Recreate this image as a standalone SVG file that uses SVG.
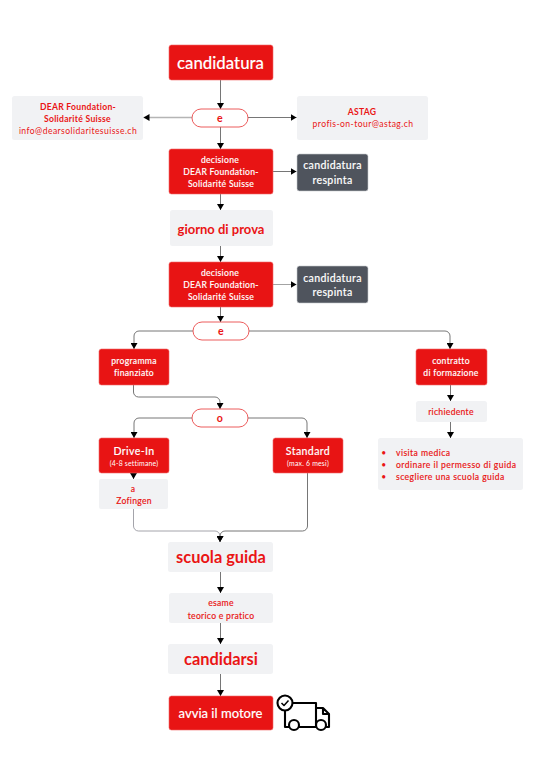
<svg xmlns="http://www.w3.org/2000/svg" width="540" height="780" viewBox="0 0 540 780">
<style>
text{font-family:"Lato","Open Sans",sans-serif;text-anchor:middle}
.r{fill:#e81414;stroke:#f06a6a;stroke-width:.6}
.g{fill:#f1f2f4}
.d{fill:#4f545d;stroke:#c8cacf;stroke-width:.6}
.p{fill:#fff;stroke:#ea4a4a;stroke-width:.9}
.w{fill:#fff}
.t{fill:#ea1515}
.b{font-weight:700}
.m{font-weight:500;stroke-width:.12}
.w.m{stroke:#fff}
.t.m{stroke:#ea1515}
.s9{font-size:8.6px;letter-spacing:.28px}
.l9{font-size:8.6px;letter-spacing:.42px}
.s7{font-size:6.9px;letter-spacing:.2px}
.s11{font-size:10.6px;letter-spacing:.35px}
.s14{font-size:13px}
.s18{font-size:16.8px}
.s17{font-size:16.4px}
.c{fill:none;stroke:#666;stroke-width:.9;marker-end:url(#a)}
.tr{fill:none;stroke:#000;stroke-width:2.100;stroke-linejoin:round}
</style>
<defs><marker id="a" markerUnits="userSpaceOnUse" markerWidth="7" markerHeight="7" refX="6" refY="3.500" orient="auto"><path d="M0 0L6 3.500L0 7z" fill="#000"/></marker></defs>
<g id="connectors">
<path class="c" d="M220.500 80V109"/>
<path class="c" d="M192 117.500H143.500" style="stroke:#b5b5b5;stroke-width:1.500"/>
<path class="c" d="M248 117.500H296.500"/>
<path class="c" d="M220.500 127V149"/>
<path class="c" d="M273 171.500H296.500"/>
<path class="c" d="M220.500 194V210"/>
<path class="c" d="M220.500 246V262"/>
<path class="c" d="M273 284.500H296.500" style="stroke:#999"/>
<path class="c" d="M220.500 307V322"/>
<path class="c" d="M193 331H139a5 5 0 0 0-5 5V349"/>
<path class="c" d="M249 331H445a5 5 0 0 1 5 5V349"/>
<path class="c" d="M133.500 385V392a5 5 0 0 0 5 5H215a5 5 0 0 1 5 5V409"/>
<path class="c" d="M192 418H139a5 5 0 0 0-5 5V438"/>
<path class="c" d="M248 418H302a5 5 0 0 1 5 5V438"/>
<path class="c" d="M450.500 385V401"/>
<path class="c" d="M450.500 422V438"/>
<path class="c" d="M133.500 473V479"/>
<path class="c" d="M133.500 509V526a5 5 0 0 0 5 5H215a5 5 0 0 1 5 5V542" style="stroke:#9a9aa2"/>
<path class="c" d="M307.500 473V526a5 5 0 0 1-5 5H225a5 5 0 0 0-5 5V542"/>
<path class="c" d="M220.500 572V593"/>
<path class="c" d="M220.500 623V644"/>
<path class="c" d="M220.500 674V696"/>
</g>
<g id="n1"><rect class="r" x="169" y="45" width="104" height="35" rx="2.500"/><text class="w s18 m" x="220.500" y="69">candidatura</text></g>
<g id="n2"><rect class="p" x="192" y="109" width="56" height="18" rx="9"/><text class="t s11 b" x="220" y="122">e</text></g>
<g id="n3"><rect class="g" x="12" y="96" width="131" height="44" rx="2.500"/><text class="t s9 b" x="78" y="110">DEAR Foundation-</text><text class="t s9 b" x="77.500" y="122">Solidarité Suisse</text><text class="t l9" x="78" y="134">info@dearsolidaritesuisse.ch</text></g>
<g id="n4"><rect class="g" x="297" y="96" width="131" height="44" rx="2.500"/><text class="t s9 b" x="362" y="115">ASTAG</text><text class="t l9" x="363" y="127">profis-on-tour@astag.ch</text></g>
<g id="n5"><rect class="r" x="169" y="149" width="104" height="45" rx="2.500"/><text class="w s9 m" x="220" y="163">decisione</text><text class="w s9 m" x="221" y="175">DEAR Foundation-</text><text class="w s9 m" x="221" y="187">Solidarité Suisse</text></g>
<g id="n6"><rect class="d" x="297" y="154" width="71" height="37" rx="2.500"/><text class="w s11 m" x="332.500" y="169">candidatura</text><text class="w s11 m" x="332.500" y="184">respinta</text></g>
<g id="n7"><rect class="g" x="170" y="210" width="103" height="36" rx="2.500"/><text class="t s14 b" x="221" y="234">giorno di prova</text></g>
<g id="n8"><rect class="r" x="169" y="262" width="104" height="45" rx="2.500"/><text class="w s9 m" x="220" y="276">decisione</text><text class="w s9 m" x="221" y="288">DEAR Foundation-</text><text class="w s9 m" x="221" y="300">Solidarité Suisse</text></g>
<g id="n9"><rect class="d" x="297" y="266" width="71" height="37" rx="2.500"/><text class="w s11 m" x="332.500" y="282">candidatura</text><text class="w s11 m" x="332.500" y="296">respinta</text></g>
<g id="n10"><rect class="p" x="193" y="322" width="56" height="18" rx="9"/><text class="t s11 b" x="221" y="335">e</text></g>
<g id="n11"><rect class="r" x="99" y="349" width="70" height="36" rx="2.500"/><text class="w s9 m" x="134" y="364">programma</text><text class="w s9 m" x="134" y="376">finanziato</text></g>
<g id="n12"><rect class="r" x="416" y="349" width="71" height="36" rx="2.500"/><text class="w s9 m" x="451" y="364">contratto</text><text class="w s9 m" x="451" y="376">di formazione</text></g>
<g id="n13"><rect class="p" x="192" y="409" width="56" height="18" rx="9"/><text class="t s11 b" x="220" y="422">o</text></g>
<g id="n14"><rect class="g" x="416" y="401" width="71" height="21" rx="2.500"/><text class="t s9 m" x="451" y="415">richiedente</text></g>
<g id="n15"><rect class="r" x="99" y="438" width="70" height="35" rx="2.500"/><text class="w s11 m" x="134" y="455">Drive-In</text><text class="w s7" x="134" y="466">(4-8 settimane)</text></g>
<g id="n16"><rect class="r" x="273" y="438" width="70" height="35" rx="2.500"/><text class="w s11 m" x="308" y="455">Standard</text><text class="w s7" x="308" y="466">(max. 6 mesi)</text></g>
<g id="n17"><rect class="g" x="99" y="479" width="69" height="30" rx="2"/><text class="t s9 m" x="133" y="492">a</text><text class="t s9 m" x="134" y="504">Zofingen</text></g>
<g id="n18"><rect class="g" x="378" y="438" width="145" height="52" rx="2.500"/>
<text class="t s9" x="384" y="456">•</text><text class="t s9" x="384" y="468">•</text><text class="t s9" x="384" y="480">•</text>
<text class="l9 t m" x="396" y="456" style="text-anchor:start">visita medica</text><text class="l9 t m" x="396" y="468" style="text-anchor:start">ordinare il permesso di guida</text><text class="l9 t m" x="396" y="480" style="text-anchor:start">scegliere una scuola guida</text></g>
<g id="n19"><rect class="g" x="168" y="542" width="105" height="30" rx="2.500"/><text class="t s17 b" x="221" y="563">scuola guida</text></g>
<g id="n20"><rect class="g" x="169" y="593" width="104" height="30" rx="2.500"/><text class="t s9 m" x="221" y="606">esame</text><text class="t s9 m" x="221" y="619">teorico e pratico</text></g>
<g id="n21"><rect class="g" x="168" y="644" width="105" height="30" rx="2.500"/><text class="t s17 b" x="221" y="665">candidarsi</text></g>
<g id="n22"><rect class="r" x="169" y="696" width="104" height="34" rx="2.500"/><text class="w s14 m" x="220.500" y="718">avvia il motore</text></g>
<g id="truck"><circle class="tr" cx="285" cy="703" r="7.500"/><path class="tr" d="M285 711V727H289M299 727H316V703H292M316 708H323L329 714V727H326M323 708V714H329"/><circle class="tr" cx="294" cy="725" r="5"/><circle class="tr" cx="321" cy="725" r="5"/><path class="tr" style="stroke-width:1.500" d="M281.500 703L284 705.500L288.500 700.500"/></g>
</svg>
